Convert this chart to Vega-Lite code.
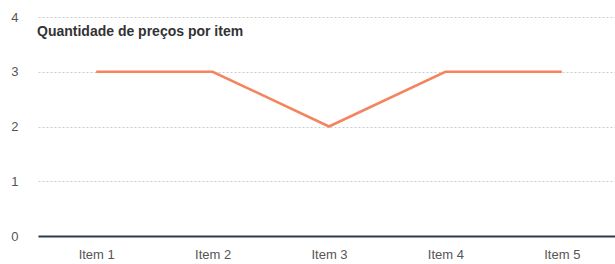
{
  "$schema": "https://vega.github.io/schema/vega-lite/v6.json",
  "autosize": "none",
  "width": 582,
  "height": 219,
  "padding": {"left": 38, "top": 17, "right": 0, "bottom": 28},
  "background": "white",
  "title": {
    "text": "Quantidade de preços por item",
    "anchor": "start",
    "frame": "group",
    "orient": "top",
    "offset": -28,
    "dx": -1,
    "fontSize": 14,
    "fontWeight": "bold",
    "font": "Liberation Sans",
    "color": "#333333"
  },
  "data": {"values": [
    {"item": "Item 1", "qtd": 3},
    {"item": "Item 2", "qtd": 3},
    {"item": "Item 3", "qtd": 2},
    {"item": "Item 4", "qtd": 3},
    {"item": "Item 5", "qtd": 3}
  ]},
  "config": {
    "view": {"stroke": null},
    "axis": {"labelFont": "Liberation Sans", "labelFontSize": 13, "labelColor": "#555555"}
  },
  "mark": {"type": "line", "color": "#f4845f", "strokeWidth": 2.5},
  "encoding": {
    "x": {
      "field": "item", "type": "ordinal",
      "scale": {"type": "point", "padding": 0.5},
      "axis": {"title": null, "labelAngle": 0, "ticks": false, "labelPadding": 12, "domainColor": "#2c3a55", "domainWidth": 2, "grid": false}
    },
    "y": {
      "field": "qtd", "type": "quantitative",
      "scale": {"domain": [0, 4], "nice": false},
      "axis": {"title": null, "values": [0, 1, 2, 3, 4], "ticks": false, "domain": false, "labelPadding": 20, "gridColor": "#cccccc", "gridDash": [2, 2], "gridWidth": 1}
    }
  }
}
